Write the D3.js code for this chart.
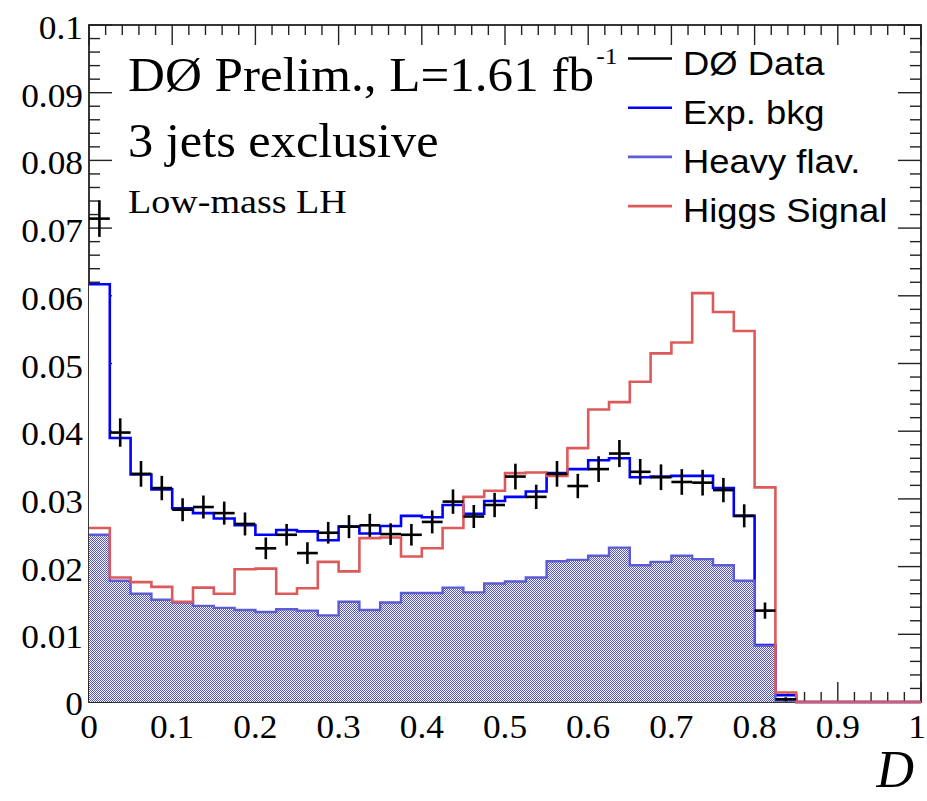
<!DOCTYPE html>
<html>
<head>
<meta charset="utf-8">
<script src="https://cdn.jsdelivr.net/npm/d3@7"></script>
<style>
  html, body { margin: 0; padding: 0; background: #fff; }
  svg { display: block; }
</style>
</head>
<body>
<svg id="chart" width="927" height="801"></svg>
<script>
// Discriminant D: 40 bins of width 0.025 between 0 and 1
const binEdges = d3.range(0, 40).map(i => i * 0.025);

// Expected background (normalised)
const expBkg = [
  0.0617, 0.0390, 0.0336, 0.0314, 0.0286, 0.0279, 0.0271, 0.0261, 0.0247, 0.0254,
  0.0252, 0.0239, 0.0259, 0.0249, 0.0260, 0.0275, 0.0273, 0.0291, 0.0278, 0.0297,
  0.0303, 0.0311, 0.0338, 0.0344, 0.0357, 0.0360, 0.0332, 0.0333, 0.0334, 0.0334,
  0.0316, 0.0275, 0.0084, 0.0010, 0, 0, 0, 0, 0, 0
];

// Heavy-flavour component
const heavyFlav = [
  0.0247, 0.0179, 0.0160, 0.0151, 0.0147, 0.0142, 0.0139, 0.0136, 0.0133, 0.0137,
  0.0135, 0.0128, 0.0148, 0.0136, 0.0147, 0.0161, 0.0161, 0.0169, 0.0162, 0.0175,
  0.0178, 0.0184, 0.0208, 0.0210, 0.0216, 0.0228, 0.0202, 0.0207, 0.0216, 0.0211,
  0.0202, 0.0179, 0.0083, 0.0002, 0, 0, 0, 0, 0, 0
];

// Higgs signal shape
const higgsSignal = [
  0.0257, 0.0184, 0.0177, 0.0170, 0.0148, 0.0169, 0.0160, 0.0196, 0.0197, 0.0160,
  0.0168, 0.0207, 0.0193, 0.0242, 0.0243, 0.0215, 0.0227, 0.0257, 0.0303, 0.0312,
  0.0338, 0.0339, 0.0334, 0.0375, 0.0432, 0.0443, 0.0473, 0.0515, 0.0531, 0.0604,
  0.0576, 0.0548, 0.0317, 0.0014, 0, 0, 0, 0, 0, 0
];

// DØ data and its statistical uncertainty
const dataValues = [
  0.0714, 0.0398, 0.0337, 0.0316, 0.0284, 0.0288, 0.0279, 0.0263, 0.0227, 0.0247,
  0.0220, 0.0250, 0.0259, 0.0261, 0.0248, 0.0247, 0.0266, 0.0296, 0.0274, 0.0291,
  0.0333, 0.0303, 0.0337, 0.0319, 0.0344, 0.0367, 0.0340, 0.0332, 0.0325, 0.0324,
  0.0313, 0.0275, 0.0135, 0.0004, 0, 0, 0, 0, 0, 0
];
const dataErrors = [
  0.0027, 0.0021, 0.0019, 0.0018, 0.0017, 0.0017, 0.0017, 0.0017, 0.0016, 0.0016,
  0.0016, 0.0016, 0.0017, 0.0017, 0.0016, 0.0016, 0.0017, 0.0018, 0.0017, 0.0018,
  0.0019, 0.0018, 0.0019, 0.0018, 0.0019, 0.0020, 0.0019, 0.0019, 0.0019, 0.0019,
  0.0018, 0.0017, 0.0012, 0.0003, 0, 0, 0, 0, 0, 0
];

const binWidth = 0.025;
const xTicks = [0, 0.1, 0.2, 0.3, 0.4, 0.5, 0.6, 0.7, 0.8, 0.9, 1];
const xTickLabels = ["0", "0.1", "0.2", "0.3", "0.4", "0.5", "0.6", "0.7", "0.8", "0.9", "1"];
const yTicks = [0, 0.01, 0.02, 0.03, 0.04, 0.05, 0.06, 0.07, 0.08, 0.09, 0.1];
const yTickLabels = ["0", "0.01", "0.02", "0.03", "0.04", "0.05", "0.06", "0.07", "0.08", "0.09", "0.1"];

const legendLabels = ["DØ Data", "Exp. bkg", "Heavy flav.", "Higgs Signal"];
const legendColors = ["#000000", "#0000ff", "#5c5cd6", "#dd5a5a"];

const svg = d3.select("#chart");
const frameL = 89, frameR = 921, frameT = 25, frameB = 702;

const x = d3.scaleLinear().domain([0, 1]).range([frameL, frameR]);
const y = d3.scaleLinear().domain([0, 0.1]).range([frameB, frameT]);

const serif = "'Liberation Serif', 'Times New Roman', Times, serif";
const sans = "'Liberation Sans', Arial, Helvetica, sans-serif";

// text helper: glyphs slightly widened horizontally
function label(parent, px, py, str, opts) {
  const t = parent.append("text")
    .attr("transform", `translate(${px},${py}) scale(${opts.sx || 1},1)`)
    .attr("font-family", opts.family || serif)
    .attr("font-size", opts.size)
    .attr("text-anchor", opts.anchor || "start")
    .attr("fill", "#000");
  if (opts.italic) t.attr("font-style", "italic");
  if (str !== null) t.text(str);
  return t;
}

// dotted fill used for the heavy-flavour component
const defs = svg.append("defs");
const pat = defs.append("pattern")
  .attr("id", "hfDots").attr("patternUnits", "userSpaceOnUse")
  .attr("width", 2).attr("height", 2);
pat.append("rect").attr("width", 2).attr("height", 2).attr("fill", "#ffffff");
pat.append("rect").attr("x", 0).attr("y", 0).attr("width", 1).attr("height", 1).attr("fill", "#5050dc");
pat.append("rect").attr("x", 1).attr("y", 1).attr("width", 1).attr("height", 1).attr("fill", "#5050dc");

// frame
svg.append("rect")
  .attr("x", frameL).attr("y", frameT)
  .attr("width", frameR - frameL).attr("height", frameB - frameT)
  .attr("fill", "none").attr("stroke", "#222").attr("stroke-width", 1.8);

// tick marks on all four sides (major plus 4 minor per division)
const tickG = svg.append("g").attr("stroke", "#222").attr("stroke-width", 1.4);
const xMinor = d3.range(0, 51).map(i => i * 0.02);
xMinor.forEach((v, i) => {
  const len = i % 5 === 0 ? 20 : 10;
  const px = x(v);
  tickG.append("line").attr("x1", px).attr("x2", px).attr("y1", frameB).attr("y2", frameB - len);
  tickG.append("line").attr("x1", px).attr("x2", px).attr("y1", frameT).attr("y2", frameT + len);
});
const yMinor = d3.range(0, 51).map(i => i * 0.002);
yMinor.forEach((v, i) => {
  const len = i % 5 === 0 ? 23 : 11;
  const py = y(v);
  tickG.append("line").attr("x1", frameL).attr("x2", frameL + len).attr("y1", py).attr("y2", py);
  tickG.append("line").attr("x1", frameR).attr("x2", frameR - len).attr("y1", py).attr("y2", py);
});

// tick labels (the last one kept inside the page edge)
const xLab = svg.append("g");
xTicks.forEach((d, i) => {
  const last = i === xTicks.length - 1;
  label(xLab, last ? x(d) + 5 : x(d), 738, xTickLabels[i],
    { size: 34, anchor: last ? "end" : "middle", sx: 1.04 });
});
const yLab = svg.append("g");
yTicks.forEach((d, i) => {
  label(yLab, 83, d === 0 ? y(d) + 13 : y(d) + 14, yTickLabels[i], { size: 34, anchor: "end", sx: 1.04 });
});

// x-axis title
label(svg, 914, 787, "D", { size: 52, anchor: "end", italic: true });

// histogram helpers
const stepPoints = vals => {
  const pts = vals.map((v, i) => [binEdges[i], v]);
  pts.push([1, vals[vals.length - 1]]);
  return pts;
};
const stepLine = d3.line().x(d => x(d[0])).y(d => y(d[1])).curve(d3.curveStepAfter);
const stepArea = d3.area().x(d => x(d[0])).y0(y(0)).y1(d => y(d[1])).curve(d3.curveStepAfter);

// expected background: white-filled histogram with blue outline
svg.append("path").attr("d", stepArea(stepPoints(expBkg))).attr("fill", "#fff");
svg.append("path").attr("d", stepLine(stepPoints(expBkg)))
  .attr("fill", "none").attr("stroke", "#0000ff").attr("stroke-width", 2.6);

// heavy flavour: dotted fill
svg.append("path").attr("d", stepArea(stepPoints(heavyFlav))).attr("fill", "url(#hfDots)");
svg.append("path").attr("d", stepLine(stepPoints(heavyFlav)))
  .attr("fill", "none").attr("stroke", "#5c5cd6").attr("stroke-width", 2.4);

// Higgs signal
svg.append("path").attr("d", stepLine(stepPoints(higgsSignal)))
  .attr("fill", "none").attr("stroke", "#dd5a5a").attr("stroke-width", 2.6);

// data points with error bars
const dataG = svg.append("g").attr("stroke", "#000").attr("stroke-width", 2.6);
dataValues.forEach((v, i) => {
  if (v <= 0) return;
  const x0 = x(binEdges[i]), x1 = x(binEdges[i] + binWidth);
  const xc = x(binEdges[i] + binWidth / 2);
  dataG.append("line").attr("x1", x0).attr("x2", x1).attr("y1", y(v)).attr("y2", y(v));
  if (dataErrors[i] > 0) {
    dataG.append("line").attr("x1", xc).attr("x2", xc)
      .attr("y1", y(v - dataErrors[i])).attr("y2", y(v + dataErrors[i]));
  }
});

// labels inside the frame
const title = label(svg, 128, 91, null, { size: 48, sx: 1.065 });
title.append("tspan").text("DØ Prelim., L=1.61 fb");
title.append("tspan").attr("dx", 2).attr("dy", -27).attr("font-size", 24).text("-1");

label(svg, 128, 157, "3 jets exclusive", { size: 48, sx: 1.05 });
label(svg, 128, 213, "Low-mass LH", { size: 34, sx: 1.12 });

// legend
const legend = svg.append("g");
legendLabels.forEach((lab, i) => {
  const cy = 58.5 + i * 49.2;
  legend.append("line")
    .attr("x1", 628).attr("x2", 672).attr("y1", cy).attr("y2", cy)
    .attr("stroke", legendColors[i]).attr("stroke-width", 2.6);
  label(legend, 683, cy + 16, lab, { size: 32.5, family: sans, sx: 1.12 });
});
</script>
</body>
</html>
